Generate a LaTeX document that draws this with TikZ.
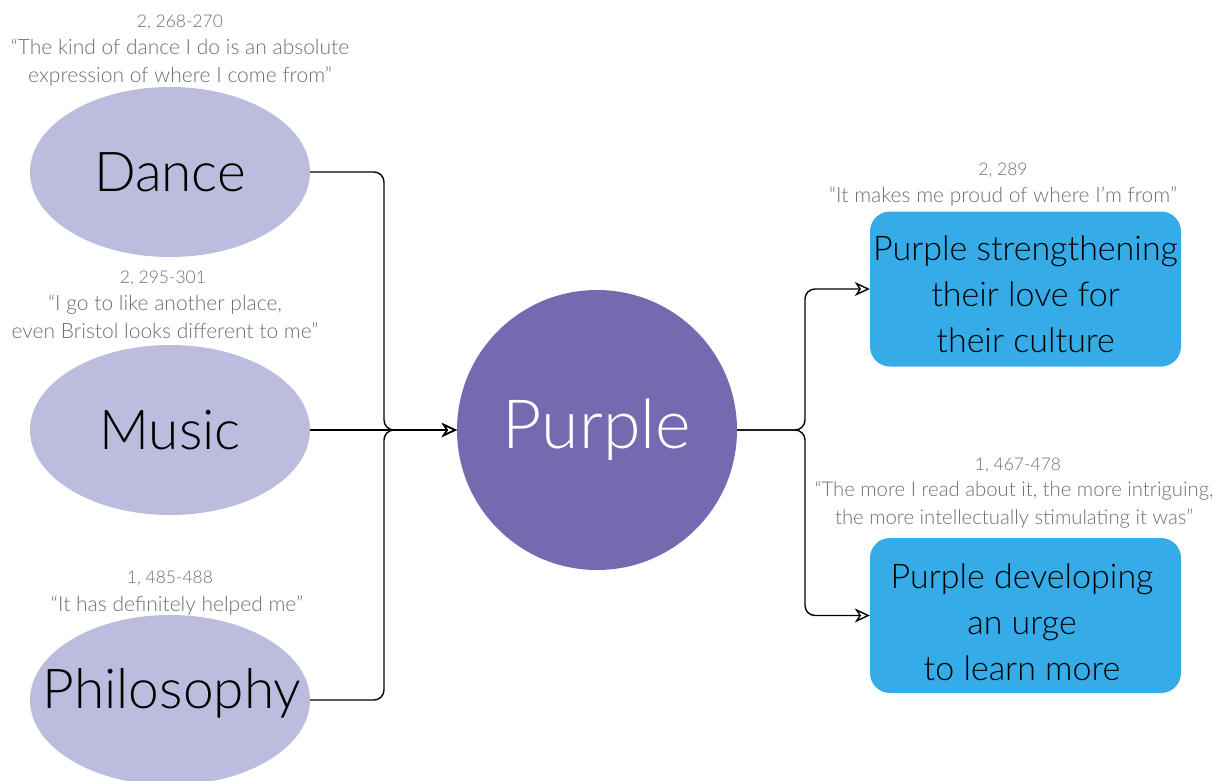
\documentclass[tikz,border=0pt]{standalone}
\usepackage{fontspec}
\setmainfont{Lato}[UprightFont=* Light]
\usetikzlibrary{shapes.geometric,arrows.meta}
\definecolor{lilac}{HTML}{BCBCDE}
\definecolor{violet}{HTML}{756AB0}
\definecolor{skyblue}{HTML}{35ABE8}
\definecolor{quotegray}{HTML}{6E6E6E}
\begin{document}
\begin{tikzpicture}[x=1pt,y=-1pt,
  topic/.style={ellipse,fill=lilac,draw=none,minimum width=280,minimum height=170,inner sep=0},
  topictext/.style={font=\fontsize{55}{55}\selectfont,text=black},
  outcome/.style={rectangle,rounded corners=20,fill=skyblue,minimum width=311,minimum height=155,inner sep=0},
  outcometext/.style={align=center,font=\fontsize{34}{46}\selectfont,text=black},
  ref/.style={font=\fontsize{17.5}{17.5}\selectfont,text=quotegray},
  quote/.style={font=\fontsize{21}{28}\selectfont,text=quotegray,align=center},
  link/.style={draw=black,line width=1.4,rounded corners=10},
  arrowlink/.style={link,-{Stealth[open,length=15,width=14,inset=4.5]}}]
\useasboundingbox (0,0) rectangle (1221,781);

% topic ellipses on the left
\node[topic] (dance) at (170,172) {};
\node[topictext] (dancet) at (dance.center) {Dance};
\node[topic] (music) at (170,430) {};
\node[topictext] (musict) at (music.center) {Music};
\node[topic] (philo) at (170,700) {};
\node[topictext] (philot) at (172,693) {Philosophy};

% central circle
\node[circle,fill=violet,minimum size=280,inner sep=0] (purple) at (597,430) {};
\node[font=\fontsize{68}{68}\selectfont,text=white] (purplet) at (purple.center) {Purple};

% outcome boxes
\node[outcome] (cult) at (1025.5,289) {};
\node[outcometext] (cultt) at (1025.5,294) {Purple strengthening\\their love for\\their culture};
\node[outcome] (learn) at (1025.5,615.5) {};
\node[outcometext] (learnt) at (1022,622) {Purple developing\\an urge\\to learn more};

% references and quotes
\node[ref] (r1) at (180,22) {2, 268-270};
\node[quote] (q1) at (180,63) {“The kind of dance I do is an absolute\\expression of where I come from”};
\node[ref] (r2) at (163,278) {2, 295-301};
\node[quote] (q2) at (165,317) {“I go to like another place,\\even Bristol looks different to me”};
\node[ref] (r3) at (170,578) {1, 485-488};
\node[quote] (q3) at (177,605) {“It has definitely helped me”};
\node[ref] (r4) at (1003,170) {2, 289};
\node[quote] (q4) at (1003,196) {“It makes me proud of where I’m from”};
\node[ref] (r5) at (1018,465) {1, 467-478};
\node[quote,font=\fontsize{20.3}{28}\selectfont] (q5) at (1014,505) {“The more I read about it, the more intriguing,\\the more intellectually stimulating it was”};

% junction points
\coordinate (jl) at (384,430);
\coordinate (jr) at (805,430);

% connectors
\draw[arrowlink] (dance.east) -| (jl) -- (purple.west);
\draw[arrowlink] (music.east) -- (purple.west);
\draw[arrowlink] (philo.east) -| (jl) -- (purple.west);
\draw[arrowlink] (purple.east) -- (jr) |- (cult.west);
\draw[arrowlink] (purple.east) -- (jr) |- (learn.west);
\end{tikzpicture}
\end{document}
